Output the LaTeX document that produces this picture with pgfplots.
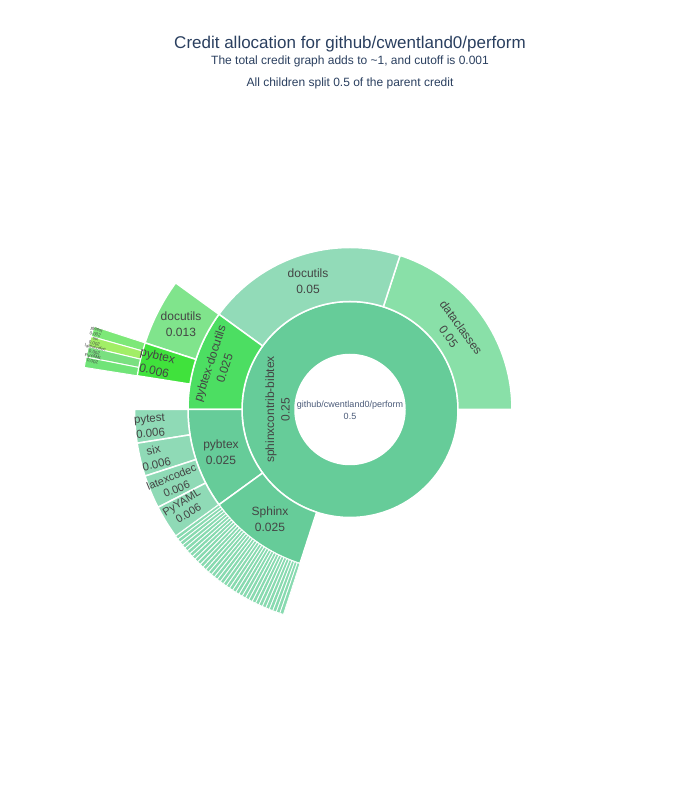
\documentclass[border=0pt]{standalone}
\usepackage{pgfplots}
\pgfplotsset{compat=1.18}
\usepackage{fontspec}
\setmainfont{Liberation Sans}
\definecolor{titlec}{HTML}{2A3F5F}
\definecolor{labc}{HTML}{444444}
\definecolor{rootc}{HTML}{4A5A78}
\definecolor{cBib}{HTML}{66CC99}
\definecolor{cData}{HTML}{89E0A8}
\definecolor{cDocA}{HTML}{92DBB8}
\definecolor{cPbd}{HTML}{4CDE62}
\definecolor{cDocB}{HTML}{80E48C}
\definecolor{cPbB}{HTML}{40E23C}
\definecolor{cDep}{HTML}{8FDAB6}
\definecolor{cStr}{HTML}{88DAB0}
\definecolor{cR4a}{HTML}{7DE878}
\definecolor{cR4b}{HTML}{A2EE66}
\definecolor{cR4c}{HTML}{7AE080}
\definecolor{cR4d}{HTML}{70E478}
% wedge: start angle, end angle, inner radius, outer radius, colour, line width
\newcommand\sbwedge[6]{%
\addplot[fill=#5, draw=white, line width=#6, line join=round,
  samples at={0,1,...,40,100,101,...,140}, variable=\t]
  ({350+(\t<50 ? (#4) : (#3))*cos(\t<50 ? (#1)+((#2)-(#1))*\t/40 : (#2)-((#2)-(#1))*(\t-100)/40)},
   {390.5+(\t<50 ? (#4) : (#3))*sin(\t<50 ? (#1)+((#2)-(#1))*\t/40 : (#2)-((#2)-(#1))*(\t-100)/40)}) -- cycle;}
\newcommand\ringcircle[1]{%
\addplot[draw=white, line width=1.5pt, samples=120, domain=0:360, variable=\t]
  ({350+(#1)*cos(\t)},{390.5+(#1)*sin(\t)});}
\begin{document}
\begin{tikzpicture}
\begin{axis}[scale only axis, width=700pt, height=800pt,
  xmin=0, xmax=700, ymin=0, ymax=800, hide axis, clip=false]
\addplot[draw=none] coordinates {(0,0) (700,800)};
% ring 1: sphinxcontrib-bibtex (full annulus)
\addplot[fill=cBib, draw=none, samples at={0,1,...,90,100,101,...,190}, variable=\t]
  ({350+(\t<95 ? 108 : 55)*cos(\t<95 ? 4*\t : 360-4*(\t-100))},
   {390.5+(\t<95 ? 108 : 55)*sin(\t<95 ? 4*\t : 360-4*(\t-100))}) -- cycle;
\ringcircle{108}
\ringcircle{55}
% ring 2
\sbwedge{0}{72}{108}{162}{cData}{1.5pt}
\sbwedge{72}{144}{108}{162}{cDocA}{1.5pt}
\sbwedge{144}{180}{108}{162}{cPbd}{1.5pt}
\sbwedge{180}{216}{108}{162}{cBib}{1.5pt}
\sbwedge{216}{252}{108}{162}{cBib}{1.5pt}
% ring 3: children of pybtex-docutils
\sbwedge{144}{162}{162}{215.5}{cDocB}{1.5pt}
\sbwedge{162}{171}{162}{215.5}{cPbB}{1.5pt}
% ring 3: children of pybtex
\sbwedge{180}{189}{162}{215.5}{cDep}{1.5pt}
\sbwedge{189}{198}{162}{215.5}{cDep}{1.5pt}
\sbwedge{198}{207}{162}{215.5}{cDep}{1.5pt}
\sbwedge{207}{216}{162}{215.5}{cDep}{1.5pt}
% ring 3: children of Sphinx (many small ones)
\pgfplotsinvokeforeach{216,217,...,251}{\sbwedge{#1}{#1+1}{162}{215.5}{cStr}{0.8pt}}
% ring 4: children of pybtex (under pybtex-docutils)
\sbwedge{162}{164.25}{215.5}{269}{cR4a}{1pt}
\sbwedge{164.25}{166.5}{215.5}{269}{cR4b}{1pt}
\sbwedge{166.5}{168.75}{215.5}{269}{cR4c}{1pt}
\sbwedge{168.75}{171}{215.5}{269}{cR4d}{1pt}
% titles
\node[text=titlec, font=\fontsize{17}{20}\selectfont] at (axis cs:350,756) {Credit allocation for github/cwentland0/perform};
\node[text=titlec, font=\fontsize{12}{14}\selectfont] at (axis cs:350,739) {The total credit graph adds to \textasciitilde1, and cutoff is 0.001};
\node[text=titlec, font=\fontsize{12}{14}\selectfont] at (axis cs:350,717) {All children split 0.5 of the parent credit};
% labels
\node[text=rootc, align=center, font=\fontsize{9}{12}\selectfont] at (axis cs:350,390) {github/cwentland0/perform\\0.5};
\begin{scope}[every node/.style={text=labc, align=center, font=\fontsize{12}{15.5}\selectfont}]
\node[rotate=90] at (axis cs:277.5,390.5) {sphinxcontrib-bibtex\\0.25};
\node at (axis cs:308,519) {docutils\\0.05};
\node[rotate=-54] at (axis cs:455,468) {dataclasses\\0.05};
\node[rotate=72] at (axis cs:217,434) {pybtex-docutils\\0.025};
\node at (axis cs:221,348) {pybtex\\0.025};
\node at (axis cs:270,281) {Sphinx\\0.025};
\node at (axis cs:181,476) {docutils\\0.013};
\node[rotate=-13.5] at (axis cs:156,437) {pybtex\\0.006};
\end{scope}
\begin{scope}[every node/.style={text=labc, align=center, font=\fontsize{11.5}{14.5}\selectfont}]
\node[rotate=4.5] at (axis cs:150,374) {pytest\\0.006};
\node[rotate=13.5] at (axis cs:155,343) {six\\0.006};
\end{scope}
\begin{scope}[every node/.style={text=labc, align=center, font=\fontsize{11}{13}\selectfont}]
\node[rotate=22.5] at (axis cs:174,317) {latexcodec\\0.006};
\node[rotate=31.5] at (axis cs:185,292) {PyYAML\\0.006};
\end{scope}
\begin{scope}[every node/.style={text=labc, align=center, font=\fontsize{4.5}{5}\selectfont}]
\node[rotate=-16.9] at (axis cs:96,468) {pytest\\0.002};
\node[rotate=-14.6] at (axis cs:95,459) {six\\0.002};
\node[rotate=-12.4] at (axis cs:95,450) {latexcodec\\0.002};
\node[rotate=-10.1] at (axis cs:93,441) {PyYAML\\0.002};
\end{scope}
\end{axis}
\end{tikzpicture}
\end{document}
